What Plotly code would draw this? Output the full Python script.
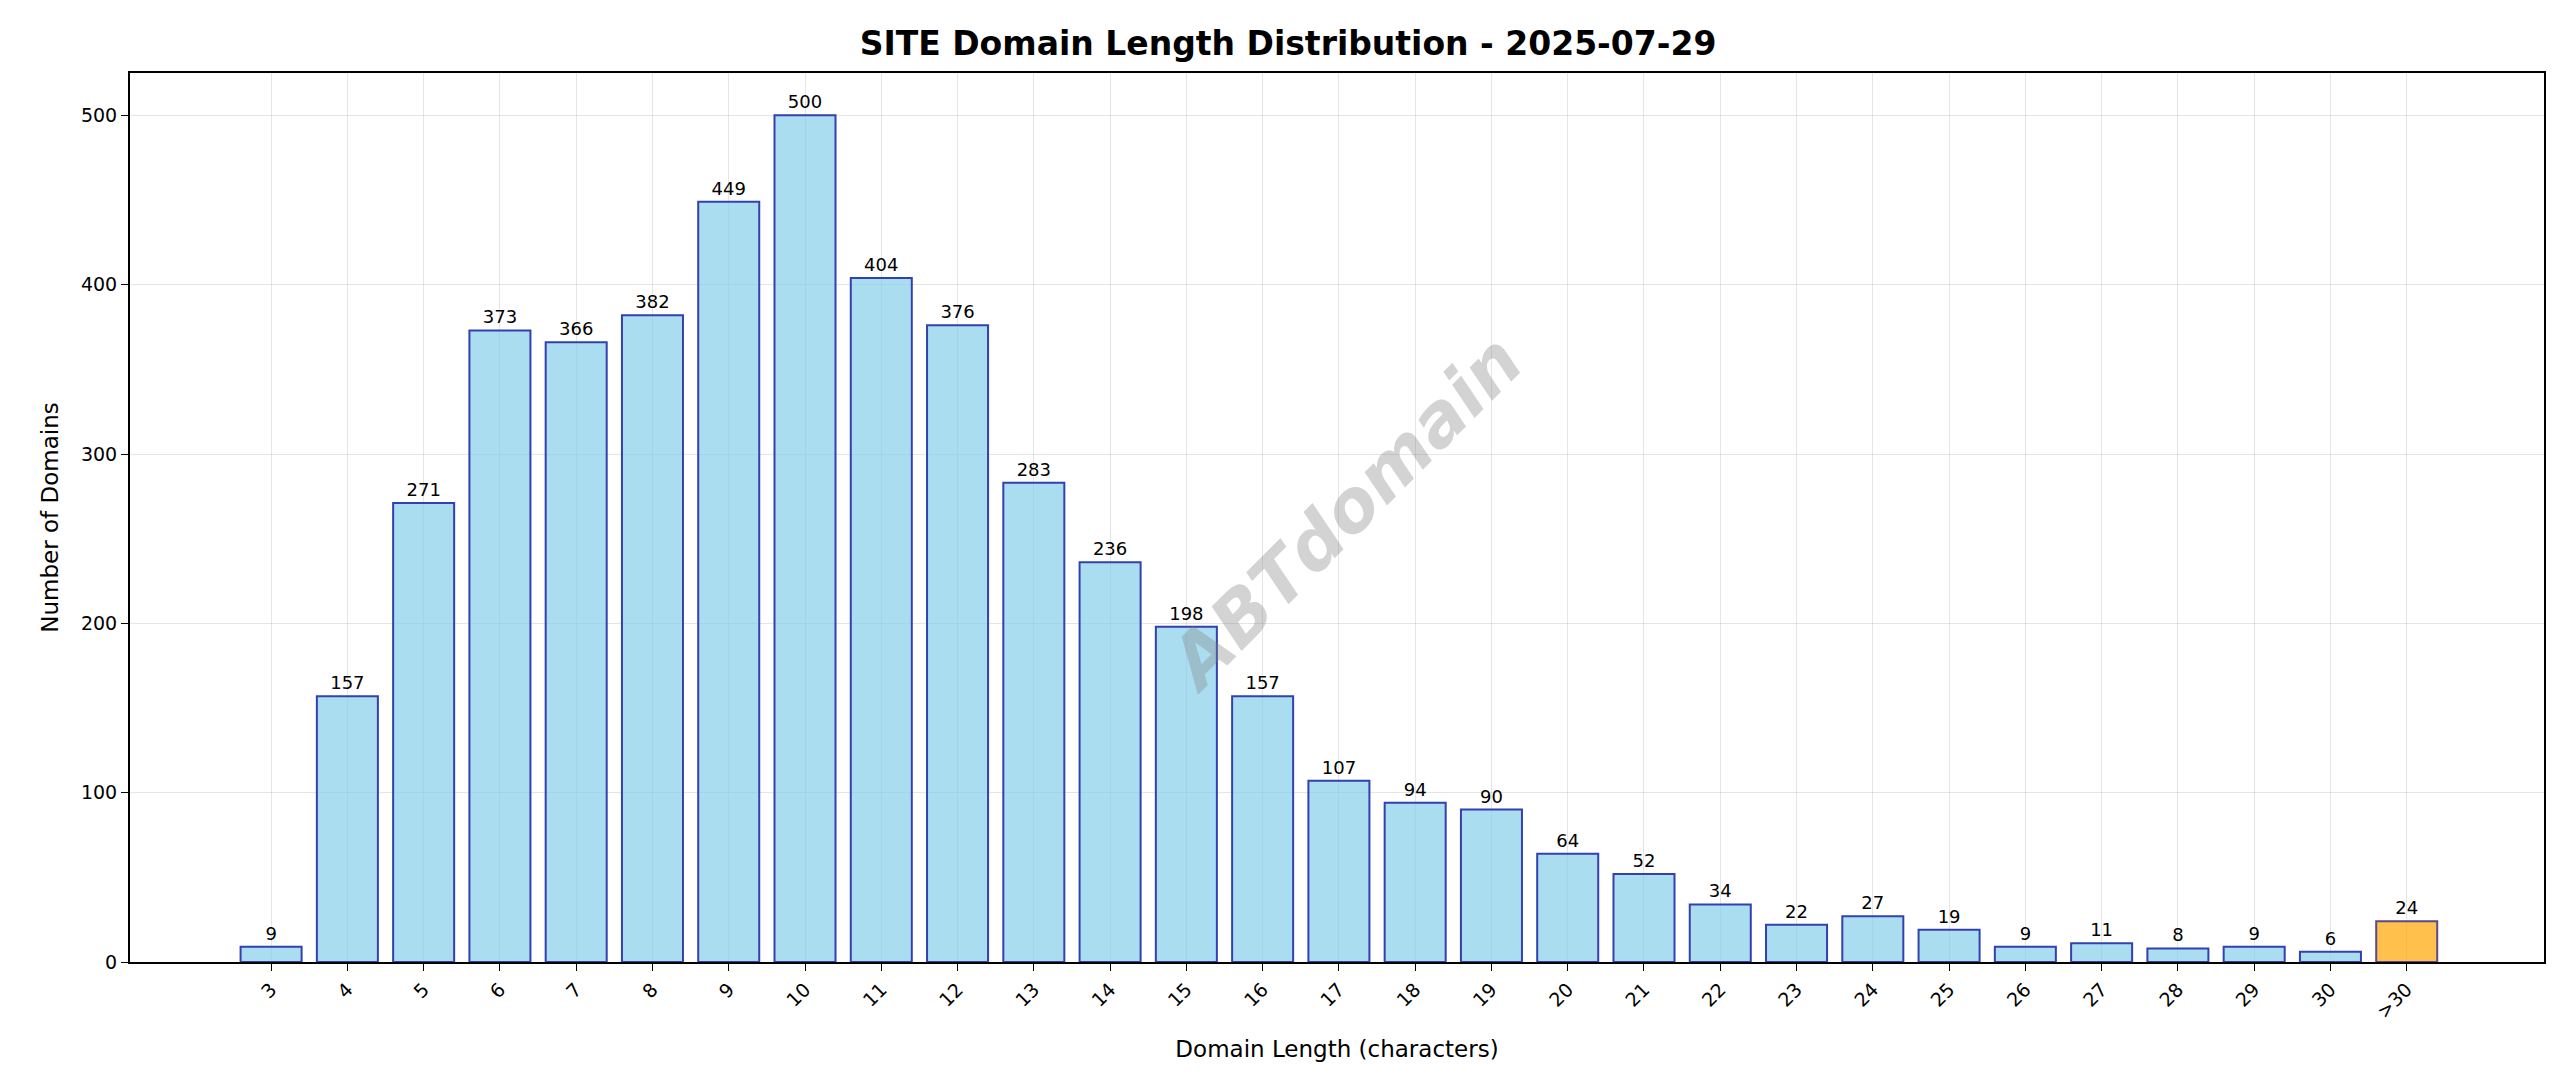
import plotly.graph_objects as go

# data
lengths = ["3", "4", "5", "6", "7", "8", "9", "10", "11", "12", "13", "14", "15", "16",
           "17", "18", "19", "20", "21", "22", "23", "24", "25", "26", "27", "28", "29", "30", ">30"]
counts = [9, 157, 271, 373, 366, 382, 449, 500, 404, 376, 283, 236, 198, 157,
          107, 94, 90, 64, 52, 34, 22, 27, 19, 9, 11, 8, 9, 6, 24]

fill = ["rgba(135,206,235,0.7)"] * (len(lengths) - 1) + ["rgba(255,165,0,0.7)"]
edge = ["#3340b0"] * (len(lengths) - 1) + ["#5a4a8a"]

fig = go.Figure(
    go.Bar(
        x=list(range(len(lengths))),
        y=counts,
        width=0.8,
        marker=dict(color=fill, line=dict(color=edge, width=2)),
        text=[str(c) for c in counts],
        textposition="outside",
        textfont=dict(size=18, color="black"),
        cliponaxis=False,
    )
)

fig.add_annotation(
    text="<b><i>ABTdomain</i></b>", xref="paper", yref="paper", x=0.503, y=0.505,
    showarrow=False, textangle=-45, font=dict(size=72, color="rgba(128,128,128,0.35)"),
)

axis_common = dict(
    showline=True, linecolor="black", linewidth=2, mirror=True,
    ticks="outside", ticklen=7, tickcolor="black",
    showgrid=True, gridcolor="rgba(0,0,0,0.1)", zeroline=False,
    tickfont=dict(size=19, color="black"),
)

fig.update_layout(
    width=2560, height=1087,
    plot_bgcolor="white", paper_bgcolor="white",
    font=dict(family="DejaVu Sans", color="black"),
    title=dict(text="<b>SITE Domain Length Distribution - 2025-07-29</b>",
               x=0.5, xanchor="center", y=0.967, yanchor="middle", font=dict(size=33)),
    margin=dict(l=122, r=24, t=65, b=133),
    showlegend=False,
    xaxis=dict(
        axis_common, tickmode="array", tickvals=list(range(len(lengths))), ticktext=lengths,
        tickangle=-45, range=[-1.85, 29.8],
        title=dict(text="Domain Length (characters)", font=dict(size=23), standoff=20),
    ),
    yaxis=dict(
        axis_common, range=[0, 525], dtick=100,
        title=dict(text="Number of Domains", font=dict(size=23), standoff=16),
    ),
)

fig.write_html("out.html")
